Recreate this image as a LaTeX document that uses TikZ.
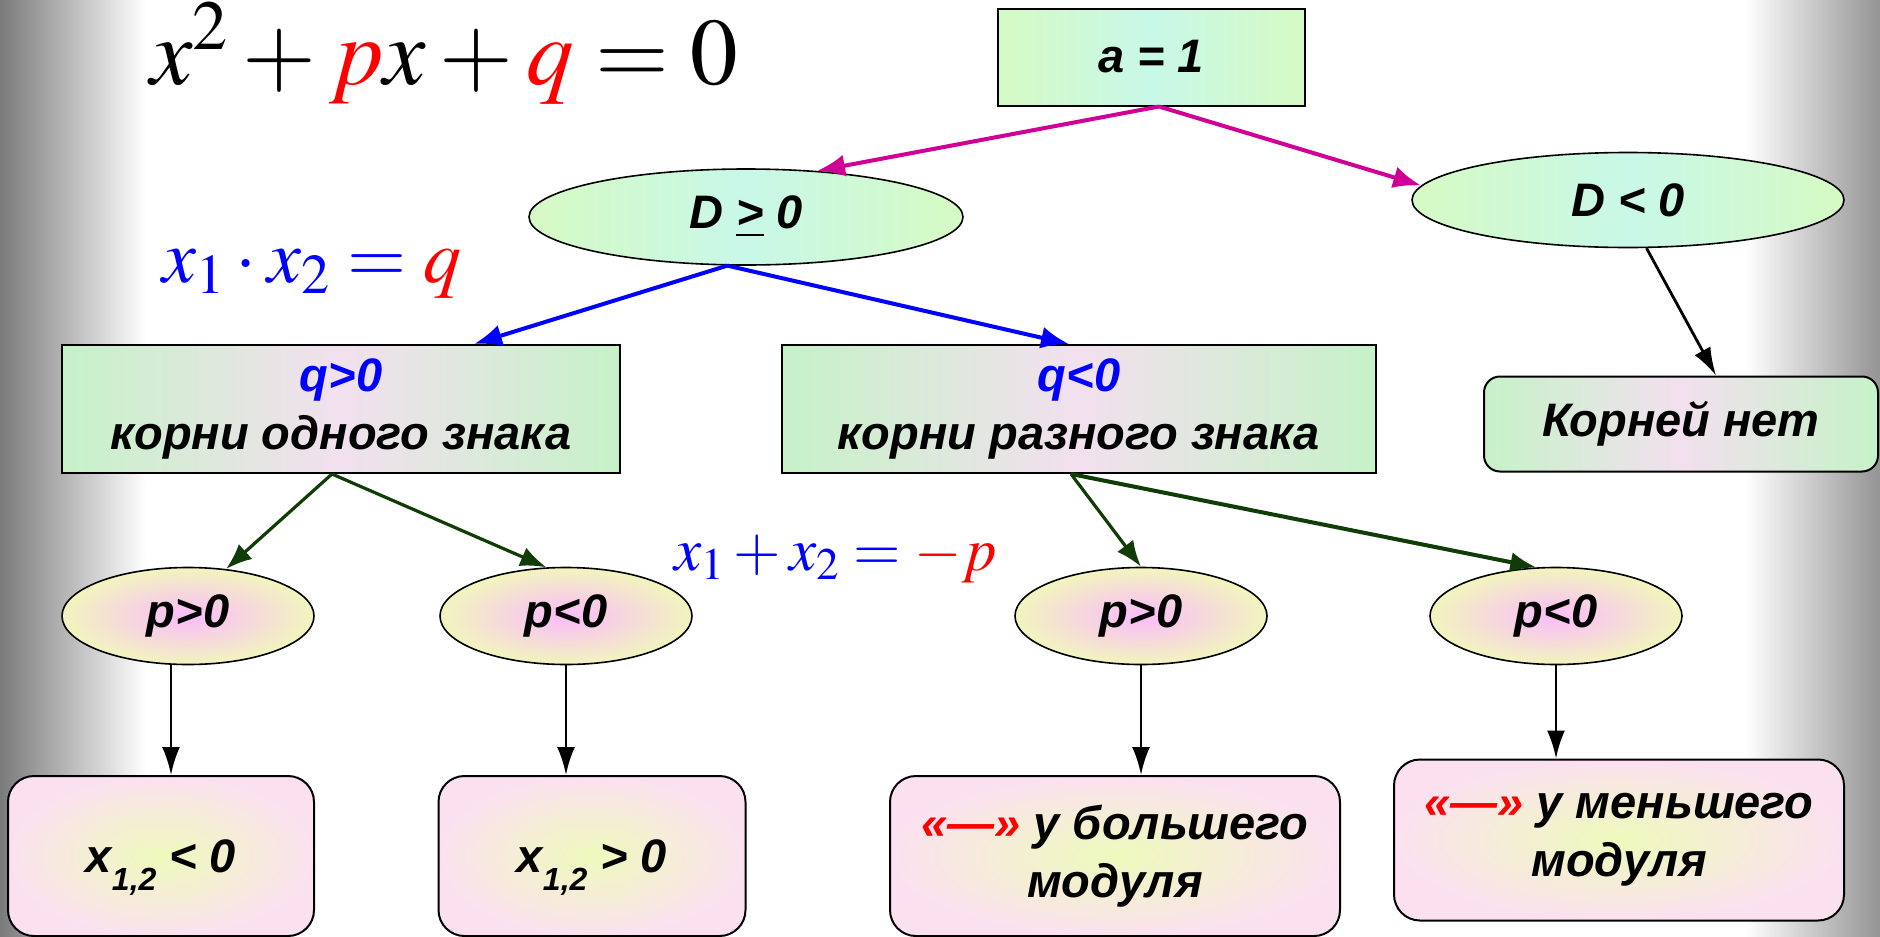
\documentclass[tikz,border=0pt]{standalone}
\usepackage{mathptmx}
\usepackage[no-math]{fontspec}
\setmainfont{Liberation Sans}
\usepackage{tikz}
\usepackage{xcolor}
\usetikzlibrary{shapes.geometric,arrows.meta}

\definecolor{mintgrn}{RGB}{214,250,196}
\definecolor{mintcyan}{RGB}{200,248,232}
\definecolor{boxgrn}{RGB}{198,242,200}
\definecolor{boxpink}{RGB}{242,224,238}
\definecolor{ovpink}{RGB}{250,188,250}
\definecolor{ovyel}{RGB}{242,245,190}
\definecolor{endpink}{RGB}{251,225,240}
\definecolor{endyel}{RGB}{238,250,188}
\definecolor{arrmag}{RGB}{208,0,150}
\definecolor{arrgrn}{RGB}{16,60,6}

\newcommand{\subidx}[1]{\raisebox{-9pt}[0pt][0pt]{\fontsize{16}{16}\selectfont #1}}

\tikzset{
  txt/.style={font=\fontsize{23.5}{29}\selectfont\bfseries\itshape, align=center, inner sep=0pt},
  topbox/.style={txt, rectangle, draw, line width=1pt, left color=mintgrn, right color=mintgrn, middle color=mintcyan},
  topoval/.style={txt, ellipse, draw, line width=0.8pt, left color=mintgrn, right color=mintgrn, middle color=mintcyan},
  qbox/.style={txt, rectangle, draw, line width=1pt, left color=boxgrn, right color=boxgrn, middle color=boxpink},
  poval/.style={txt, ellipse, draw, line width=0.8pt, inner color=ovpink, outer color=ovyel, minimum width=126pt, minimum height=48.5pt},
  endbox/.style={txt, rectangle, rounded corners=13pt, draw, line width=1pt, inner color=endyel, outer color=endpink, minimum height=80pt},
  magarr/.style={draw=arrmag, line width=2pt, -{Latex[length=14pt,width=11pt]}},
  bluarr/.style={draw=blue, line width=2pt, -{Latex[length=14pt,width=11pt]}},
  grnarr/.style={draw=arrgrn, line width=1.6pt, -{Latex[length=13pt,width=10pt]}},
  blkarr/.style={draw=black, line width=1.4pt, -{Latex[length=14pt,width=9pt]}}
}

\begin{document}
\begin{tikzpicture}[x=0.5pt,y=0.5pt,yscale=-1]
\useasboundingbox (0,0) rectangle (1880,937);

%Shape: Rectangle
\fill[white] (0,0) rectangle (1880,937);
\shade[left color=black!52, right color=white] (0,0) rectangle (146,937);
\shade[left color=white, right color=black!42] (1745,0) rectangle (1880,937);

% Text Node
\node[anchor=base west, inner sep=0pt, font=\fontsize{47.5}{57}\selectfont] (eqmain) at (150,84) {$x^{2}+{\color{red}p}x+{\color{red}q}=0$};
% Text Node
\node[anchor=base west, inner sep=0pt, font=\fontsize{38}{46}\selectfont, text=blue] (eqprod) at (162,282) {$x_{1}\cdot x_{2}={\color{red}q}$};
% Text Node
\node[anchor=base west, inner sep=0pt, font=\fontsize{30.5}{36}\selectfont, text=blue] (eqsum) at (674,570) {$x_{1}+x_{2}={\color{red}-p}$};

%Shape: Rectangle
\node[topbox, minimum width=153.5pt, minimum height=48.5pt] (aone) at (1151,57) {a = 1};
%Shape: Ellipse
\node[topoval, minimum width=217pt, minimum height=48pt] (dpos) at (746,217) {D \underline{>} 0};
\node[topoval, minimum width=216pt, minimum height=47.5pt] (dneg) at (1628,200) {D < 0};

%Shape: Rectangle
\node[qbox, minimum width=279pt, minimum height=64pt] (qpos) at (341,409) {\textcolor{blue}{q>0}\\корни одного знака};
\node[qbox, minimum width=297pt, minimum height=64pt] (qneg) at (1079,409) {\textcolor{blue}{q<0}\\корни разного знака};
\node[qbox, rounded corners=8pt, minimum width=197pt, minimum height=47.5pt] (noroots) at (1681,424) {Корней нет};

%Shape: Ellipse
\node[poval] (pp1) at (188,616) {p>0};
\node[poval] (pn1) at (566,616) {p<0};
\node[poval] (pp2) at (1141,616) {p>0};
\node[poval] (pn2) at (1556,616) {p<0};

%Shape: Rounded Rectangle
\node[endbox, minimum width=153pt] (xneg) at (161,856) {x\subidx{1,2} < 0};
\node[endbox, minimum width=153.5pt] (xpos) at (592,856) {x\subidx{1,2} > 0};
\node[endbox, minimum width=225pt] (bigger) at (1115,856) {\textcolor{red}{«—»} у большего\\модуля};
\node[endbox, minimum width=225pt, minimum height=80.5pt] (smaller) at (1619,840) {\textcolor{red}{«—»} у меньшего\\модуля};

%Straight Lines
\draw[magarr] ([xshift=4pt]aone.south) -- (dpos.33);
\draw[magarr] ([xshift=4pt]aone.south) -- (dneg.176);

%Straight Lines
\draw[bluarr] (dpos.-111) -- ([xshift=66.5pt]qpos.north);
\draw[bluarr] (dpos.-111) -- ([xshift=-5pt]qneg.north);

%Straight Lines
\draw[blkarr] (dneg.-69) -- ([xshift=17.5pt]noroots.north);

%Straight Lines
\draw[grnarr] ([xshift=-4.5pt]qpos.south) -- (pp1.51);
\draw[grnarr] ([xshift=-4.5pt]qpos.south) -- (pn1.112);
\draw[grnarr] ([xshift=-4pt]qneg.south) -- (pp2.north);
\draw[grnarr, line width=2pt] ([xshift=-4pt]qneg.south) -- (pn2.112);

%Straight Lines
\draw[blkarr] ([xshift=-8.5pt]pp1.south) -- ([xshift=-8.5pt]pp1.south |- xneg.north);
\draw[blkarr] (pn1.south) -- (pn1.south |- xpos.north);
\draw[blkarr] (pp2.south) -- (pp2.south |- bigger.north);
\draw[blkarr] (pn2.south) -- (pn2.south |- smaller.north);

\end{tikzpicture}
\end{document}
